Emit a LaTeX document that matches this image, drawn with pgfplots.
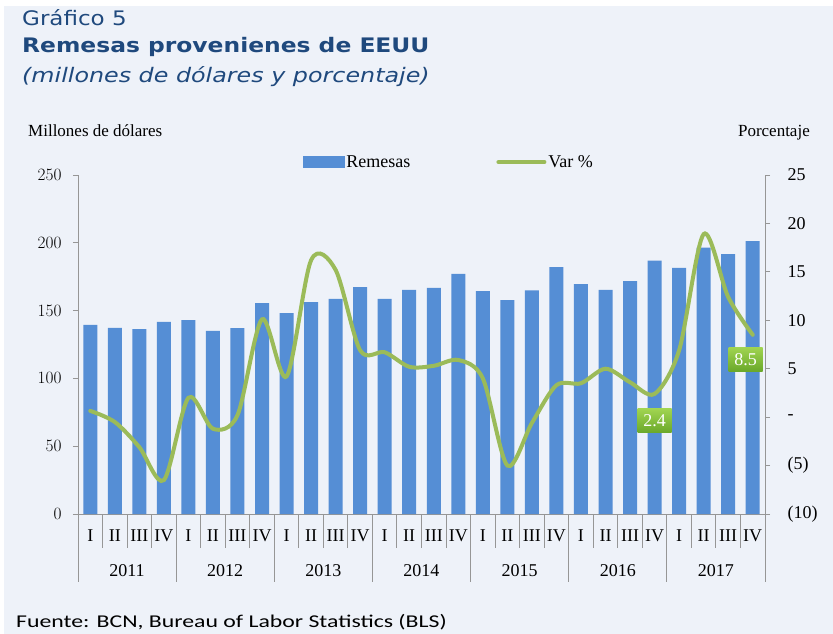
\documentclass[border=0pt]{standalone}
\usepackage{fontspec}
\setmainfont{Liberation Serif}
\newfontfamily\titlefont{DejaVu Sans}
\newfontfamily\srcfont{Carlito}
\usepackage{pgfplots}
\usepackage{pgfplotstable}
\pgfplotsset{compat=1.18}

\definecolor{bgc}{RGB}{238,242,249}
\definecolor{barblue}{RGB}{85,142,213}
\definecolor{linegreen}{RGB}{155,187,89}
\definecolor{titleblue}{RGB}{31,73,125}
\definecolor{axgray}{RGB}{150,150,150}
\definecolor{boxtop}{RGB}{160,212,80}
\definecolor{boxbot}{RGB}{106,168,42}

% quarter index, remesas (millones USD), var % interanual
\pgfplotstableread{
x rem var
0 139.4 0.65
1 137.2 -0.5
2 136.4 -3.1
3 141.6 -6.5
4 143.0 2.0
5 135.0 -1.2
6 137.0 0.2
7 155.6 10.1
8 148.2 4.2
9 156.3 16.2
10 158.6 15.2
11 167.4 6.9
12 158.6 6.7
13 165.2 5.2
14 166.7 5.3
15 177.0 5.9
16 164.4 4.0
17 157.8 -5.0
18 165.0 -0.6
19 182.0 3.3
20 169.6 3.5
21 165.2 5.0
22 171.8 3.6
23 186.8 2.4
24 181.6 6.9
25 196.4 18.9
26 191.7 12.4
27 201.3 8.5
}\data

\tikzset{
  lbl/.style={text=white, top color=boxtop, bottom color=boxbot, draw=none,
    minimum width=34pt, minimum height=24pt, inner sep=0pt,
    font=\fontsize{18}{20}\selectfont},
}
\pgfplotsset{
  base/.style={
    at={(78pt,-514pt)}, anchor=south west,
    scale only axis, width=687pt, height=339pt,
    xmin=-0.5, xmax=27.5,
    axis line style={axgray, line width=1pt},
    tick align=outside, major tick length=5pt,
    ytick style={axgray, line width=1pt},
    tick label style={font=\fontsize{18}{20}\selectfont},
    clip=false,
  },
}

\begin{document}
\begin{tikzpicture}[x=1pt, y=1pt]
\fill[white] (0pt,0pt) rectangle (833pt,-634pt);
\fill[bgc] (4pt,-6pt) rectangle (833pt,-634pt);

\node[anchor=west, inner sep=0pt, text=titleblue, font=\titlefont\fontsize{20}{24}\selectfont] at (22pt,-18pt) {\scalebox{1.15}[1]{Gráfico 5}};
\node[anchor=west, inner sep=0pt, text=titleblue, font=\titlefont\bfseries\fontsize{20}{24}\selectfont] at (22pt,-47pt) {\scalebox{1.17}[1]{Remesas provenienes de EEUU}};
\node[anchor=west, inner sep=0pt, text=titleblue, font=\titlefont\itshape\fontsize{20}{24}\selectfont] at (22pt,-77pt) {\scalebox{1.19}[1]{(millones de dólares y porcentaje)}};

\node[anchor=west, inner sep=0pt, font=\fontsize{17}{20}\selectfont] at (28pt,-131pt) {Millones de dólares};
\node[anchor=east, inner sep=0pt, font=\fontsize{17}{20}\selectfont] at (810pt,-133pt) {Porcentaje};

\node[anchor=west, inner sep=0pt, font=\srcfont\fontsize{18}{22}\selectfont] at (16pt,-622pt) {\scalebox{1.32}[1]{Fuente: BCN, Bureau of Labor Statistics (BLS)}};

\begin{axis}[base,
  ymin=0, ymax=250,
  axis x line*=bottom, axis y line*=left,
  ybar, bar width=14pt,
  ytick={0,50,...,250},
  yticklabel style={xshift=-8pt},
  xtick={0,...,27},
  xticklabels={I,II,III,IV,I,II,III,IV,I,II,III,IV,I,II,III,IV,I,II,III,IV,I,II,III,IV,I,II,III,IV},
  xtick style={draw=none},
  xticklabel style={anchor=center, yshift=-17pt},
]
\addplot[fill=barblue, draw=none] table[x=x, y=rem]{\data};
\pgfplotsinvokeforeach{-0.5,0.5,...,27.5}{
  \draw[axgray, line width=1pt] (axis cs:#1,0) -- ++(0pt,-34pt);
}
\pgfplotsinvokeforeach{-0.5,3.5,...,27.5}{
  \draw[axgray, line width=1pt] (axis cs:#1,0) -- ++(0pt,-68pt);
}
\pgfplotsinvokeforeach{2011,2012,...,2017}{
  \node[font=\fontsize{18}{20}\selectfont] at (axis cs:{(#1-2011)*4+1.5},0) [yshift=-57pt] {#1};
}
\end{axis}

\begin{axis}[base,
  ymin=-10, ymax=25,
  axis y line*=right, axis x line=none,
  ytick={-10,-5,...,25},
  yticklabels={(10),(5),-,5,10,15,20,25},
  yticklabel style={anchor=west, xshift=14pt},
  legend style={at={(0.540,1)}, anchor=south, yshift=2pt, draw=none, fill=none,
    legend columns=2, font=\fontsize{18}{20}\selectfont,
    /tikz/every even column/.append style={column sep=84pt}},
]
\addlegendimage{legend image code/.code={\fill[barblue] (0pt,-5.5pt) rectangle (41pt,5.5pt);}}
\addlegendentry{Remesas}
\addplot[linegreen, line width=4pt, smooth, tension=0.5, line cap=round,
  legend image code/.code={\draw[linegreen, line width=4pt] (0pt,0pt) -- (46pt,0pt);}]
  table[x=x, y=var]{\data};
\addlegendentry{Var \%}
\node[lbl] at (axis cs:23,2.4) [yshift=-27pt] {2.4};
\node[lbl] at (axis cs:27,8.5) [xshift=-7pt, yshift=-24.5pt] {8.5};
\end{axis}
\end{tikzpicture}
\end{document}
